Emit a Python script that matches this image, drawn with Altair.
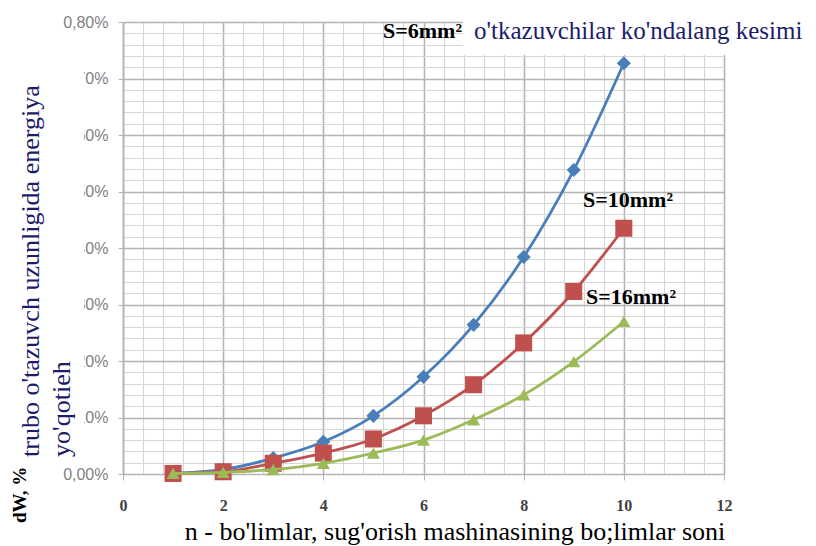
import altair as alt
import pandas as pd

# ---- data ----
n = [1, 2, 3, 4, 5, 6, 7, 8, 9, 10]
s6 = [0.001, 0.008, 0.028, 0.057, 0.103, 0.172, 0.264, 0.384, 0.538, 0.727]
s10 = [0.001, 0.004, 0.019, 0.037, 0.062, 0.103, 0.158, 0.232, 0.323, 0.435]
s16 = [0.001, 0.003, 0.008, 0.019, 0.037, 0.060, 0.096, 0.140, 0.199, 0.270]

x_grid = [round(i * 0.4, 1) for i in range(31)]
y_grid = [round(i * 0.02, 2) for i in range(41)]

SERIF = "Liberation Serif"
SANS = "Liberation Sans"
NAVY = "#1c1c6b"

x_major = "abs(datum.value/2 - round(datum.value/2)) < 0.001"
y_major = "abs(datum.value*10 - round(datum.value*10)) < 0.001"

x_axis = alt.Axis(
    values=x_grid,
    labelExpr=f"({x_major}) ? format(datum.value, 'd') : ''",
    labelFont=SERIF, labelFontSize=16, labelFontWeight="bold", labelColor="#404040",
    labelPadding=17, labelFlush=False,
    grid=True,
    gridColor={"condition": {"test": x_major, "value": "#b4b4b4"}, "value": "#d6d6d6"},
    gridWidth={"condition": {"test": x_major, "value": 1.6}, "value": 1.1},
    ticks=True, tickSize=6,
    tickColor="#b4b4b4",
    tickOpacity={"condition": {"test": x_major, "value": 1}, "value": 0},
    domain=False, title=None,
)
y_axis = alt.Axis(
    values=y_grid,
    labelExpr=f"({y_major}) ? replace(format(datum.value/100, '.2%'), '.', ',') : ''",
    labelFont=SANS, labelFontSize=16, labelColor="#7f7f7f",
    labelPadding=10, labelFlush=False,
    grid=True,
    gridColor={"condition": {"test": y_major, "value": "#b4b4b4"}, "value": "#d6d6d6"},
    gridWidth={"condition": {"test": y_major, "value": 1.6}, "value": 1.1},
    ticks=True, tickSize=5,
    tickColor="#b4b4b4",
    tickOpacity={"condition": {"test": y_major, "value": 1}, "value": 0},
    domain=True, domainColor="#b4b4b4", domainWidth=1.6, title=None,
)

xs = alt.Scale(domain=[0, 12], nice=False)
ys = alt.Scale(domain=[0, 0.8], nice=False)

X = alt.X("n:Q", scale=xs, axis=x_axis)
Y = alt.Y("v:Q", scale=ys, axis=y_axis)

one = pd.DataFrame({"a": [0]})

# white text box that hides the left part of the y labels (as in the reference)
label_box = alt.Chart(one).mark_rect(color="white").encode(
    x=alt.value(-123), x2=alt.value(-39), y=alt.value(23), y2=alt.value(428)
)


def series(vals, color, shape, size):
    df = pd.DataFrame({"n": n, "v": vals})
    line = alt.Chart(df).mark_line(color=color, strokeWidth=2.8, interpolate="monotone").encode(x=X, y=Y)
    pts = alt.Chart(df).mark_point(shape=shape, size=size, filled=True, color=color, opacity=1).encode(x=X, y=Y)
    return [line, pts]


layers = [label_box]
layers += series(s6, "#4a7ebb", "diamond", 200)
layers += series(s10, "#c0504d", "square", 290)
layers += series(s16, "#9bbb59", "triangle-up", 170)

title_box = alt.Chart(one).mark_rect(color="white").encode(
    x=alt.value(340), x2=alt.value(700), y=alt.value(-22), y2=alt.value(33)
)
layers.append(title_box)


def txt(t, x, y, size, color="black", weight="normal", align="left", angle=0, font=SERIF):
    return alt.Chart(one).mark_text(
        text=t, font=font, fontSize=size, fontWeight=weight, color=color,
        align=align, baseline="middle", angle=angle
    ).encode(x=alt.value(x), y=alt.value(y))


layers += [
    txt("S=6mm²", 339, 9, 22, weight="bold", align="right"),
    txt("o'tkazuvchilar ko'ndalang kesimi", 351, 9, 25, color=NAVY),
    txt("S=10mm²", 460, 178, 22, weight="bold"),
    txt("S=16mm²", 463, 275, 22, weight="bold"),
    txt("n - bo'limlar, sug'orish mashinasining bo;limlar soni", 332, 510, 26, align="center"),
    txt("dW, %", -103, 501, 19, weight="bold", angle=270),
    txt("trubo o'tazuvch uzunligida energiya", -92, 435, 26, color=NAVY, angle=270),
    txt("yo'qotieh", -61, 435, 26, color=NAVY, angle=270),
]

chart = alt.layer(*layers).properties(
    width=601, height=452,
    padding={"left": 115, "top": 14, "right": 84, "bottom": 72},
    autosize=alt.AutoSizeParams(type="none"),
    background="white",
).configure_view(stroke=None)

chart.save("out.html", embed_options={"renderer": "svg", "actions": False})
